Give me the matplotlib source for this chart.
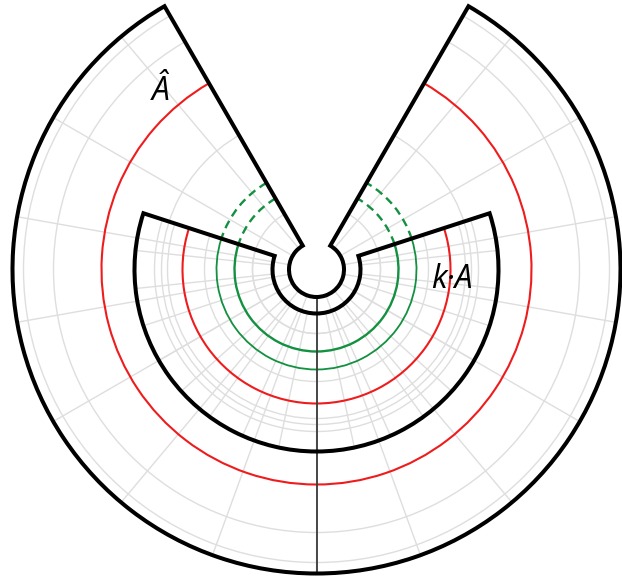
import numpy as np
import matplotlib
matplotlib.use('Agg')
import matplotlib.pyplot as plt
from matplotlib.patches import Wedge, Arc, Circle

# Shapes are annular sectors around a common origin: (r_inner, r_outer), (theta_start, theta_end) in degrees
HAT_R = (27.5, 304)
HAT_THETA = (120, 420)
KA_R = (44, 182)
KA_THETA = (162, 378)

# red level curves
RED_HAT_R = 215
RED_KA_R = 134

# green curves: solid inside k.A, dashed in the part of A-hat outside it
GREEN_R = [82, 100]
GREEN_LW = [1.7, 1.3]

# light polar grids for each shape
HAT_GRID_R = [64, 155, 263, 293]
HAT_GRID_THETA = [130, 150, 170, 190, 210, 230, 250, 270, 290, 310, 330, 350, 10, 30, 50]
KA_GRID_R = [64, 112, 149, 162]
KA_GRID_THETA = [174, 186, 198, 210, 222, 234, 246, 258, 270, 282, 294, 306, 318, 330, 342, 354, 366]

LABELS = ["Â", "k·A"]
LABEL_XY = [(-156, 178), (135, -10)]

GRID_COLOR = "#dedede"


def sector(r, theta, **kw):
	return Wedge((0, 0), r[1], theta[0], theta[1], width=r[1] - r[0], **kw)


def polar_grid(ax, radii, angles, r, theta):
	clip = sector(r, theta, transform=ax.transData)
	for rad in radii:
		c = Circle((0, 0), rad, fill=False, ec=GRID_COLOR, lw=1.0, zorder=1)
		ax.add_patch(c)
		c.set_clip_path(clip)
	for a in angles:
		t = np.deg2rad(a)
		line, = ax.plot([0, r[1] * np.cos(t)], [0, r[1] * np.sin(t)],
			color=GRID_COLOR, lw=1.0, zorder=1)
		line.set_clip_path(clip)


fig = plt.figure(figsize=(6.22, 5.77), dpi=100)
ax = fig.add_axes([0, 0, 1, 1])
ax.set_xlim(-316.5, 305.5)
ax.set_ylim(-307.5, 269.5)
ax.axis('off')

polar_grid(ax, HAT_GRID_R, HAT_GRID_THETA, HAT_R, HAT_THETA)
polar_grid(ax, KA_GRID_R, KA_GRID_THETA, KA_R, KA_THETA)

# red arcs
ax.add_patch(Arc((0, 0), 2 * RED_HAT_R, 2 * RED_HAT_R, theta1=HAT_THETA[0], theta2=HAT_THETA[1],
	color='#ee1c1c', lw=1.5, zorder=2))
ax.add_patch(Arc((0, 0), 2 * RED_KA_R, 2 * RED_KA_R, theta1=KA_THETA[0], theta2=KA_THETA[1],
	color='#ee1c1c', lw=1.5, zorder=2))

# green arcs
for rad, lw in zip(GREEN_R, GREEN_LW):
	ax.add_patch(Arc((0, 0), 2 * rad, 2 * rad, theta1=KA_THETA[0], theta2=KA_THETA[1],
		color='#139040', lw=lw, zorder=2))
	for t1, t2 in [(HAT_THETA[0], KA_THETA[0]), (KA_THETA[1], HAT_THETA[1])]:
		ax.add_patch(Arc((0, 0), 2 * rad, 2 * rad, theta1=t1, theta2=t2,
			color='#139040', lw=1.7, ls=(0, (3.5, 2.2)), zorder=2))

# symmetry axis
ax.plot([0, 0], [-HAT_R[0], -HAT_R[1]], color='#3a3a3a', lw=1.3, zorder=2.5)

# outlines
ax.add_patch(sector(HAT_R, HAT_THETA, fill=False, ec='black', lw=2.9, joinstyle='miter', zorder=3))
ax.add_patch(sector(KA_R, KA_THETA, fill=False, ec='black', lw=2.9, joinstyle='miter', zorder=3))

for txt, (x, y) in zip(LABELS, LABEL_XY):
	ax.text(x, y, txt, fontsize=23, style='italic', family=['Open Sans', 'DejaVu Sans'],
		ha='center', va='center', zorder=4)

fig.savefig('out.png', dpi=100)
